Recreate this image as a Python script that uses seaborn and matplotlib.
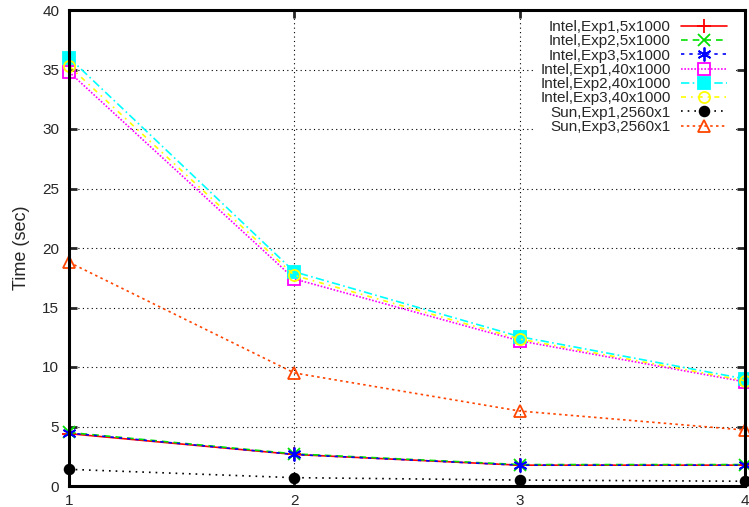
import matplotlib
matplotlib.use("Agg")
import matplotlib.pyplot as plt
import numpy as np
import pandas as pd
import seaborn as sns

# number of threads / nodes on x
procs = [1, 2, 3, 4]

intel_exp1_5 = [4.4, 2.65, 1.75, 1.75]
intel_exp2_5 = [4.5, 2.7, 1.8, 1.8]
intel_exp3_5 = [4.45, 2.65, 1.75, 1.75]
intel_exp1_40 = [34.8, 17.4, 12.2, 8.75]
intel_exp2_40 = [36.0, 18.0, 12.55, 9.0]
intel_exp3_40 = [35.3, 17.7, 12.35, 8.85]
sun_exp1 = [1.4, 0.7, 0.5, 0.4]
sun_exp3 = [18.8, 9.5, 6.3, 4.7]

labels = ["Intel,Exp1,5x1000", "Intel,Exp2,5x1000", "Intel,Exp3,5x1000",
          "Intel,Exp1,40x1000", "Intel,Exp2,40x1000", "Intel,Exp3,40x1000",
          "Sun,Exp1,2560x1", "Sun,Exp3,2560x1"]
series = [intel_exp1_5, intel_exp2_5, intel_exp3_5,
          intel_exp1_40, intel_exp2_40, intel_exp3_40,
          sun_exp1, sun_exp3]

# gnuplot-like look for each line
styles = [
    dict(color="#ff0000", ls="-", marker="+", ms=10, mfc="none"),
    dict(color="#00e000", ls=(0, (4, 3)), marker="x", ms=8, mfc="none"),
    dict(color="#0000ff", ls=(0, (2, 3)), marker=(6, 2, 0), ms=10, mfc="none"),
    dict(color="#ff00ff", ls=(0, (1, 1)), marker="s", ms=8, mfc="none"),
    dict(color="#00ffff", ls=(0, (5, 2, 1, 2)), marker="s", ms=8, mfc="#00ffff"),
    dict(color="#ffff00", ls=(0, (3, 3, 1, 3)), marker="o", ms=8, mfc="none"),
    dict(color="#000000", ls=(0, (1, 3)), marker="o", ms=7, mfc="#000000"),
    dict(color="#ff4500", ls=(0, (1.5, 2)), marker="^", ms=8, mfc="none"),
]

df = pd.concat([pd.DataFrame({"procs": procs, "time": s, "run": l})
                for s, l in zip(series, labels)], ignore_index=True)

sns.set_style("white")
plt.rcParams["font.family"] = ["Liberation Sans", "DejaVu Sans"]

fig = plt.figure(figsize=(7.49, 5.07), dpi=100)
ax = fig.add_axes([69 / 749, 21 / 507, 676 / 749, 476 / 507])

for lab, st in zip(labels, styles):
    sub = df[df["run"] == lab]
    sns.lineplot(data=sub, x="procs", y="time", ax=ax, label=lab,
                 color=st["color"], linestyle=st["ls"], linewidth=1.2,
                 marker=st["marker"], markersize=st["ms"],
                 markerfacecolor=st["mfc"], markeredgecolor=st["color"],
                 markeredgewidth=1.3, clip_on=False)

ax.set_xlim(1, 4)
ax.set_ylim(0, 40)
ax.set_xticks(procs)
ax.set_yticks(np.arange(0, 41, 5))
ax.set_xlabel("")
ax.set_ylabel("Time (sec)", fontsize=13, labelpad=9)
ax.tick_params(direction="in", length=6, width=2, labelsize=11,
               top=True, right=True, bottom=True, left=True)
ax.tick_params(axis="x", pad=6)
ax.tick_params(axis="y", pad=7)
ax.grid(True, color="black", linestyle=(0, (1, 3)), linewidth=0.8)
for sp in ax.spines.values():
    sp.set_linewidth(2.2)
    sp.set_color("black")

leg = ax.legend(loc="upper right", bbox_to_anchor=(0.994, 1.008),
                frameon=True, fancybox=False,
                edgecolor="white", framealpha=1, markerfirst=False,
                fontsize=11, handlelength=3.0, labelspacing=0.02,
                borderpad=0.3, handletextpad=0.7, borderaxespad=0.6)
for t in leg.get_texts():
    t.set_ha("right")
leg.set_zorder(5)

fig.savefig("out.png", dpi=100)
